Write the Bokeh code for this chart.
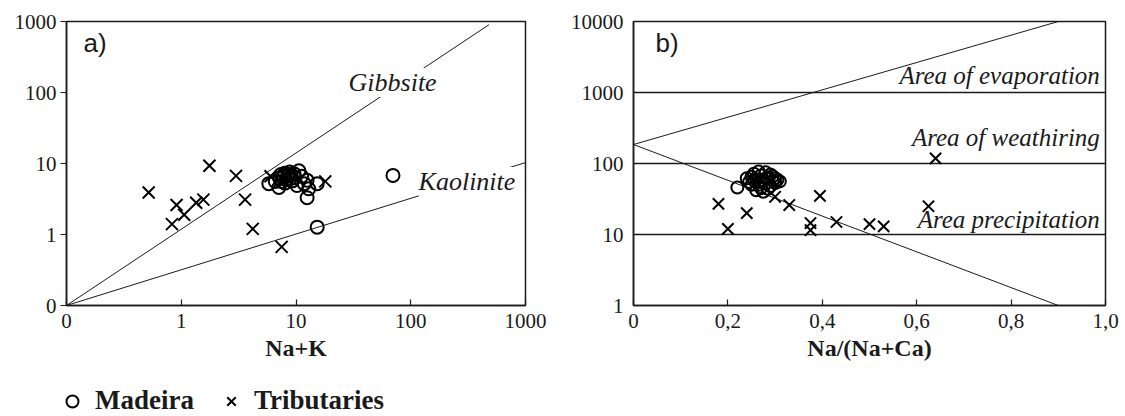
from bokeh.plotting import figure
from bokeh.layouts import row, column
from bokeh.models import FixedTicker, CustomJSTickFormatter, Label, Legend, LegendItem
from bokeh.embed import file_html
from bokeh.resources import INLINE

# ---------------- Panel a: SiO2 vs Na+K ----------------
a_madeira_x = [5.8, 7.1, 7.8, 9.6, 10.6, 10.2, 12.5, 12.9, 12.5, 15.3, 15.3, 70.0,
               7.2, 7.5, 7.7, 8.0, 8.2, 8.4, 8.6, 8.9, 9.1, 9.3, 8.0, 7.4, 8.8, 6.6, 9.8, 11.2, 11.8]
a_madeira_y = [5.2, 4.6, 6.8, 7.2, 7.9, 4.9, 5.8, 4.4, 3.3, 5.2, 1.27, 6.8,
               6.2, 5.6, 6.4, 7.3, 5.9, 6.6, 7.0, 6.1, 6.8, 5.7, 5.3, 7.0, 7.6, 5.6, 6.3, 6.6, 5.2]
a_trib_x = [0.52, 0.83, 0.91, 1.06, 1.35, 1.56, 1.76, 3.0, 3.6, 4.2, 7.5, 18.0, 6.0]
a_trib_y = [3.9, 1.4, 2.6, 1.9, 2.8, 3.1, 9.3, 6.7, 3.1, 1.2, 0.67, 5.6, 6.6]
gibbsite_x = [0.1, 480]
gibbsite_y = [0.1, 900]
kaolinite_x = [0.1, 1000]
kaolinite_y = [0.1, 10.3]
a_ticks = [0.1, 1, 10, 100, 1000]

# ---------------- Panel b: TDS vs Na/(Na+Ca) ----------------
b_madeira_x = [0.22, 0.245, 0.25, 0.255, 0.26, 0.265, 0.27, 0.27, 0.275, 0.28, 0.28, 0.285, 0.29, 0.29, 0.295,
               0.30, 0.30, 0.305, 0.26, 0.275, 0.285, 0.25, 0.265, 0.24, 0.31, 0.295, 0.255, 0.27, 0.28]
b_madeira_y = [46, 55, 65, 72, 60, 50, 68, 45, 58, 75, 52, 64, 70, 48, 57,
               62, 53, 59, 42, 40, 44, 50, 77, 62, 56, 66, 58, 55, 62]
b_trib_x = [0.18, 0.20, 0.24, 0.30, 0.33, 0.375, 0.375, 0.395, 0.43, 0.50, 0.53, 0.625, 0.64]
b_trib_y = [27, 12, 20, 34, 26, 14.5, 11.5, 35, 15, 14, 13, 25, 118]
evap_x = [0.0, 0.9]
evap_y = [185, 10000]
prec_x = [0.0, 0.9]
prec_y = [185, 1]
area_levels = [10, 100, 1000]
b_xticks = [0, 0.2, 0.4, 0.6, 0.8, 1.0]
b_yticks = [1, 10, 100, 1000, 10000]

series_names = ["Madeira", "Tributaries"]

SERIF = "'Liberation Serif', 'Times New Roman', serif"
SANS = "'Liberation Sans', Arial, sans-serif"
DARK = "#1a1a1a"


def style(p):
    p.xgrid.visible = False
    p.ygrid.visible = False
    p.outline_line_color = DARK
    p.outline_line_width = 1.5
    p.background_fill_color = "white"
    p.border_fill_color = "white"
    for ax in p.xaxis + p.yaxis:
        ax.axis_line_color = DARK
        ax.axis_line_width = 1.5
        ax.major_tick_line_color = DARK
        ax.major_tick_line_width = 1.2
        ax.minor_tick_line_color = None
        ax.major_label_text_font = SERIF
        ax.major_label_text_font_size = "21px"
        ax.major_label_text_color = DARK
        ax.axis_label_text_font = SERIF
        ax.axis_label_text_font_style = "bold"
        ax.axis_label_text_font_size = "24px"
        ax.axis_label_text_color = DARK
    for ax in p.xaxis:
        ax.major_tick_in = 6
        ax.major_tick_out = 0
        ax.major_label_standoff = 8
        ax.axis_label_standoff = 4


# ---------------- figure a ----------------
p1 = figure(x_axis_type="log", y_axis_type="log", x_range=(0.1, 1000), y_range=(0.1, 1000),
            frame_width=459, frame_height=284, min_border_left=66, min_border_right=42,
            min_border_top=21, min_border_bottom=80, output_backend="svg", toolbar_location=None)
style(p1)
p1.xaxis.ticker = FixedTicker(ticks=a_ticks)
p1.yaxis.ticker = FixedTicker(ticks=a_ticks)
fmt_a = CustomJSTickFormatter(code="return tick < 0.5 ? '0' : tick.toFixed(0);")
p1.xaxis.formatter = fmt_a
p1.yaxis.formatter = fmt_a
p1.xaxis.axis_label = "Na+K"
p1.yaxis.major_tick_out = 6
p1.yaxis.major_tick_in = 0
p1.yaxis.major_label_standoff = 4

p1.line(gibbsite_x, gibbsite_y, line_color=DARK, line_width=1)
p1.line(kaolinite_x, kaolinite_y, line_color=DARK, line_width=1)
p1.scatter(a_trib_x, a_trib_y, marker="x", size=17, line_color="black", line_width=2)
p1.scatter(a_madeira_x, a_madeira_y, marker="circle", size=13, fill_color=None,
           line_color="black", line_width=2)

p1.add_layout(Label(x=28.7, y=138, text="Gibbsite", text_font=SERIF, text_font_style="italic",
                    text_font_size="26px", text_baseline="middle", text_align="left",
                    text_color=DARK, background_fill_color="white"))
p1.add_layout(Label(x=117, y=5.57, text="Kaolinite", text_font=SERIF, text_font_style="italic",
                    text_font_size="26px", text_baseline="middle", text_align="left",
                    text_color=DARK, background_fill_color="white"))
p1.add_layout(Label(x=0.1406, y=506, text="a)", text_font=SANS,
                    text_font_size="26px", text_baseline="middle", text_align="left", text_color=DARK))
p1.add_layout(Label(x=-43, y=129, x_units="screen", y_units="screen", text="SiO2", angle=90,
                    angle_units="deg", text_font=SERIF, text_font_style="bold", text_font_size="24px",
                    text_baseline="middle", text_align="center", text_color=DARK))

# ---------------- figure b ----------------
p2 = figure(y_axis_type="log", x_range=(0, 1.0), y_range=(1, 10000),
            frame_width=472, frame_height=284, min_border_left=66, min_border_right=20,
            min_border_top=21, min_border_bottom=80, output_backend="svg", toolbar_location=None)
style(p2)
p2.xaxis.ticker = FixedTicker(ticks=b_xticks)
p2.yaxis.ticker = FixedTicker(ticks=b_yticks)
p2.xaxis.formatter = CustomJSTickFormatter(
    code="return tick < 0.05 ? '0' : tick.toFixed(1).replace('.', ',');")
p2.yaxis.formatter = CustomJSTickFormatter(code="return tick.toFixed(0);")
p2.xaxis.axis_label = "Na/(Na+Ca)"
p2.yaxis.major_tick_out = 0
p2.yaxis.major_tick_in = 0
p2.yaxis.major_label_standoff = 10

p2.segment(x0=[0] * len(area_levels), y0=area_levels, x1=[1.0] * len(area_levels), y1=area_levels,
           line_color=DARK, line_width=1.3)
p2.line(evap_x, evap_y, line_color=DARK, line_width=1)
p2.line(prec_x, prec_y, line_color=DARK, line_width=1)
p2.scatter(b_trib_x, b_trib_y, marker="x", size=16, line_color="black", line_width=2)
p2.scatter(b_madeira_x, b_madeira_y, marker="circle", size=12, fill_color=None,
           line_color="black", line_width=2)

for txt, yy in [("Area of evaporation", 1735), ("Area of weathiring", 232), ("Area precipitation", 16.3)]:
    p2.add_layout(Label(x=0.988, y=yy, text=txt, text_font=SERIF, text_font_style="italic",
                        text_font_size="25px", text_baseline="middle", text_align="right",
                        text_color=DARK))
p2.add_layout(Label(x=0.0466, y=5060, text="b)", text_font=SANS,
                    text_font_size="26px", text_baseline="middle", text_align="left", text_color=DARK))
p2.add_layout(Label(x=-52, y=135, x_units="screen", y_units="screen", text="TDS", angle=90,
                    angle_units="deg", text_font=SERIF, text_font_style="bold", text_font_size="24px",
                    text_baseline="middle", text_align="center", text_color=DARK))

# ---------------- legend strip (shared legend for both panels) ----------------
# The legend's renderers carry the panel-b series; the strip's ranges keep them out of view,
# so only their legend glyphs are drawn.
p3 = figure(frame_width=1125, frame_height=31, x_range=(2, 3), y_range=(-2, -1),
            min_border_left=0, min_border_right=0, min_border_top=0, min_border_bottom=0,
            x_axis_location=None, y_axis_location=None, output_backend="svg", toolbar_location=None)
p3.xgrid.visible = False
p3.ygrid.visible = False
p3.outline_line_color = None
p3.background_fill_color = "white"
p3.border_fill_color = "white"
leg_md = p3.scatter(b_madeira_x, b_madeira_y, marker="circle", size=12, fill_color=None,
                    line_color="black", line_width=2)
leg_tr = p3.scatter(b_trib_x, b_trib_y, marker="x", size=12, line_color="black", line_width=2)
legend = Legend(items=[LegendItem(label=series_names[0], renderers=[leg_md]),
                       LegendItem(label=series_names[1], renderers=[leg_tr])],
                orientation="horizontal", location=(57, 0), glyph_width=30, glyph_height=30,
                label_standoff=8, spacing=22, padding=0, margin=0,
                border_line_alpha=0, background_fill_alpha=0,
                label_text_font=SERIF, label_text_font_style="bold", label_text_font_size="27px",
                label_text_color=DARK)
p3.add_layout(legend)

layout = column(row(p1, p2), p3)
open("out.html", "w").write(file_html(layout, INLINE))
